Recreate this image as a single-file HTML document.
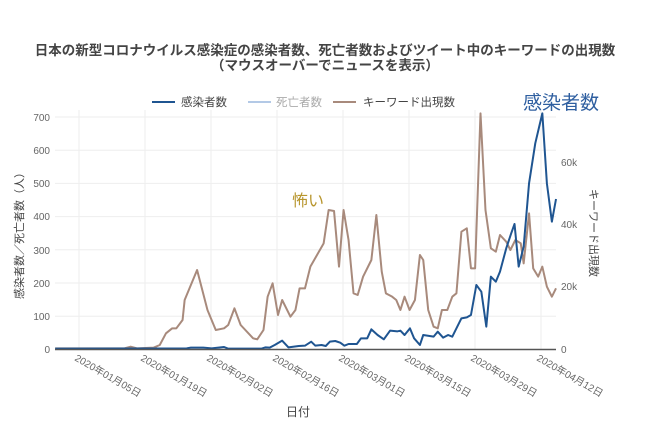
<!DOCTYPE html>
<html><head><meta charset="utf-8"><style>
html,body{margin:0;padding:0;background:#fff;}
svg{display:block;font-family:"Liberation Sans","Noto Sans CJK JP",sans-serif;}
</style></head><body>
<svg width="650" height="433" viewBox="0 0 650 433">
<g font-size="13.5" font-weight="bold" fill="#444" text-anchor="middle">
<text x="325" y="55">日本の新型コロナウイルス感染症の感染者数、死亡者数およびツイート中のキーワードの出現数</text>
<text x="325" y="70">（マウスオーバーでニュースを表示）</text>
</g>
<g stroke="#eee" stroke-width="1">
<line x1="55" y1="117" x2="556" y2="117"/><line x1="55" y1="150.2" x2="556" y2="150.2"/><line x1="55" y1="183.4" x2="556" y2="183.4"/><line x1="55" y1="216.6" x2="556" y2="216.6"/><line x1="55" y1="249.8" x2="556" y2="249.8"/><line x1="55" y1="283" x2="556" y2="283"/><line x1="55" y1="316.2" x2="556" y2="316.2"/>
<line x1="79" y1="110" x2="79" y2="349"/><line x1="145" y1="110" x2="145" y2="349"/><line x1="211" y1="110" x2="211" y2="349"/><line x1="277" y1="110" x2="277" y2="349"/><line x1="343" y1="110" x2="343" y2="349"/><line x1="409" y1="110" x2="409" y2="349"/><line x1="475" y1="110" x2="475" y2="349"/><line x1="541" y1="110" x2="541" y2="349"/>
</g>
<g font-size="10" fill="#666" text-anchor="end">
<text x="50" y="353">0</text><text x="50" y="320">100</text><text x="50" y="287">200</text><text x="50" y="254">300</text><text x="50" y="220">400</text><text x="50" y="187">500</text><text x="50" y="154">600</text><text x="50" y="121">700</text>
</g>
<g font-size="10" fill="#666">
<text x="561" y="353">0</text><text x="561" y="290">20k</text><text x="561" y="228">40k</text><text x="561" y="166">60k</text>
</g>
<text transform="translate(23,233) rotate(-90)" font-size="11" fill="#444" text-anchor="middle">感染者数／死亡者数（人）</text>
<text transform="translate(590,233) rotate(90)" font-size="11" fill="#444" text-anchor="middle">キーワード出現数</text>
<g font-size="10" fill="#666">
<text transform="translate(74,360) rotate(30)">2020年01月05日</text>
<text transform="translate(140,360) rotate(30)">2020年01月19日</text>
<text transform="translate(206,360) rotate(30)">2020年02月02日</text>
<text transform="translate(272,360) rotate(30)">2020年02月16日</text>
<text transform="translate(338,360) rotate(30)">2020年03月01日</text>
<text transform="translate(404,360) rotate(30)">2020年03月15日</text>
<text transform="translate(470,360) rotate(30)">2020年03月29日</text>
<text transform="translate(536,360) rotate(30)">2020年04月12日</text>
</g>
<text x="298" y="416" font-size="12" fill="#444" text-anchor="middle">日付</text>
<g transform="translate(0,80) scale(0.41494,0.33333)" fill="none" stroke-linejoin="round">
<polyline vector-effect="non-scaling-stroke" stroke="#a88a7c" stroke-width="2" points="133,805 300,805 315,800 330,805 370,803 385,795 400,760 415,745 425,745 440,720 445,660 475,570 500,690 520,750 540,745 550,735 565,685 580,735 610,775 620,778 635,750 645,650 657,610 670,705 680,660 700,710 712,690 722,625 735,625 748,560 780,490 792,390 805,393 817,560 828,390 840,480 852,640 862,645 875,590 895,540 907,405 920,575 930,640 945,650 955,660 965,690 975,650 987,690 1000,660 1012,525 1020,540 1032,690 1045,740 1055,745 1065,690 1078,690 1090,650 1100,640 1112,455 1125,445 1135,565 1145,565 1158,100 1170,390 1183,505 1195,515 1205,465 1220,485 1230,510 1242,480 1255,490 1262,550 1275,400 1285,565 1297,590 1307,560 1318,620 1330,650 1340,625"/>
<polyline vector-effect="non-scaling-stroke" stroke="#1f5591" stroke-width="2" points="133,806 450,805 460,803 490,803 510,805 540,801 550,806 630,806 640,802 650,803 662,795 680,782 695,802 720,798 735,797 750,785 760,797 775,795 785,798 795,785 808,783 820,788 830,797 840,792 860,792 870,775 885,775 895,748 910,765 925,778 940,752 958,754 965,752 975,765 988,745 998,775 1012,795 1020,765 1045,770 1055,755 1068,773 1080,765 1090,770 1112,715 1125,712 1135,705 1148,615 1160,635 1172,740 1183,590 1195,605 1205,575 1220,505 1232,460 1240,432 1250,560 1262,500 1275,310 1290,190 1307,100 1318,310 1330,425 1340,357"/>
</g>
<line x1="55" y1="349.5" x2="556" y2="349.5" stroke="#555" stroke-width="1.5"/>
<g font-size="11.5">
<line x1="152" y1="102" x2="175" y2="102" stroke="#1f5591" stroke-width="2"/><text x="181" y="106" fill="#444">感染者数</text>
<line x1="248" y1="102" x2="271" y2="102" stroke="#b3c9e6" stroke-width="2"/><text x="276" y="106" fill="#aaa">死亡者数</text>
<line x1="333" y1="102" x2="356" y2="102" stroke="#a88a7c" stroke-width="2"/><text x="363" y="106" fill="#444">キーワード出現数</text>
</g>
<text x="523" y="109" font-size="19" fill="#2f5fa0">感染者数</text>
<text x="292" y="206" font-size="16" fill="#b8962e">怖い</text>
</svg>
</body></html>
